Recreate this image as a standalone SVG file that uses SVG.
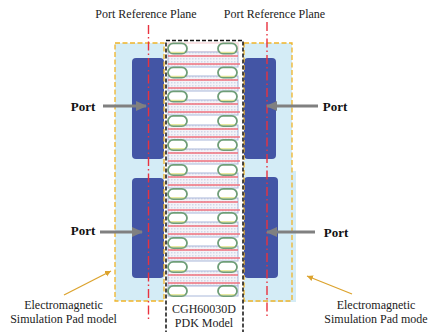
<svg xmlns="http://www.w3.org/2000/svg" width="428" height="332" viewBox="0 0 428 332">
<defs>
<pattern id="dots" width="3" height="3" patternUnits="userSpaceOnUse"><rect width="3" height="3" fill="#f3f3f8"/><rect width="1.500" height="1.500" fill="#d4d8e8"/></pattern>
<marker id="ah" markerWidth="11" markerHeight="11" refX="10" refY="5" orient="auto" markerUnits="userSpaceOnUse"><path d="M0 0L11 5L0 10Z" fill="#808080"/></marker>
<marker id="ao" markerWidth="7" markerHeight="7" refX="6" refY="3" orient="auto" markerUnits="userSpaceOnUse"><path d="M0 0L6 3L0 6Z" fill="#dca32e"/></marker>
<g id="pill"><rect x="-9.500" y="-5.200" width="19" height="10.400" rx="5.200" fill="#fff" stroke="#6f9e78" stroke-width="1.800"/><rect x="-7" y="3.300" width="14" height="0.900" fill="#dfe07a"/></g>
<g id="strip">
<rect x="168" y="0" width="70" height="15" fill="url(#dots)" stroke="#a9b8da" stroke-width="1"/>
<path d="M168 4H238" stroke="#f0707c" stroke-width="1.300"/>
<path d="M168 12H240" stroke="#f0707c" stroke-width="1.300"/>
</g>
</defs>
<style>
.t{font-family:"Liberation Serif","Times New Roman",serif;font-size:12px;fill:#222;text-anchor:middle}
.p{font-family:"Liberation Serif","Times New Roman",serif;font-size:13px;font-weight:bold;fill:#111;text-anchor:middle}
.pad{fill:#4355a5}
.ob{fill:none;stroke:#f0b428;stroke-width:1.300;stroke-dasharray:5 2.500}
.ref{fill:none;stroke:#e8323f;stroke-width:1.400;stroke-dasharray:9 3 1.500 3}
.arr{fill:none;stroke:#808080;stroke-width:2.800;marker-end:url(#ah)}
.oa{fill:none;stroke:#dca32e;stroke-width:1.300;marker-end:url(#ao)}
</style>
<rect width="428" height="332" fill="#fff"/>
<g id="pad-model-left">
<rect x="115" y="43" width="49" height="258" fill="#d4ecf6"/>
<rect x="132" y="58" width="32" height="101" rx="4" class="pad"/>
<rect x="132" y="178" width="32" height="100" rx="4" class="pad"/>
<rect x="115" y="43" width="49" height="258" class="ob"/>
</g>
<g id="pad-model-right">
<rect x="244" y="43" width="48" height="135" fill="#d4ecf6"/>
<rect x="244" y="171" width="52" height="131" fill="#d4ecf6"/>
<rect x="244" y="58" width="32" height="101" rx="4" class="pad"/>
<rect x="244" y="177" width="34" height="101" rx="4" class="pad"/>
<rect x="244" y="43" width="48" height="258" class="ob"/>
</g>
<g id="pdk-model">
<rect x="168" y="43" width="70" height="9" fill="#fff" stroke="#f5c8cc" stroke-width="1"/>
<use href="#strip" y="52"/><use href="#strip" y="76"/><use href="#strip" y="100"/><use href="#strip" y="125"/><use href="#strip" y="149"/><use href="#strip" y="173"/><use href="#strip" y="198"/><use href="#strip" y="222"/><use href="#strip" y="246"/><use href="#strip" y="271"/>
<rect x="168" y="286" width="70" height="10" fill="#fff" stroke="#a9b8da" stroke-width="1"/>
<use href="#pill" x="177.500" y="48.500"/><use href="#pill" x="227.500" y="48.500"/>
<use href="#pill" x="177.500" y="72.500"/><use href="#pill" x="227.500" y="72.500"/>
<use href="#pill" x="177.500" y="96.500"/><use href="#pill" x="227.500" y="96.500"/>
<use href="#pill" x="177.500" y="121"/><use href="#pill" x="227.500" y="121"/>
<use href="#pill" x="177.500" y="145"/><use href="#pill" x="227.500" y="145"/>
<use href="#pill" x="177.500" y="170"/><use href="#pill" x="227.500" y="170"/>
<use href="#pill" x="177.500" y="194"/><use href="#pill" x="227.500" y="194"/>
<use href="#pill" x="177.500" y="218"/><use href="#pill" x="227.500" y="218"/>
<use href="#pill" x="177.500" y="243"/><use href="#pill" x="227.500" y="243"/>
<use href="#pill" x="177.500" y="267"/><use href="#pill" x="227.500" y="267"/>
<use href="#pill" x="177.500" y="291"/><use href="#pill" x="227.500" y="291"/>
<rect x="166" y="40.500" width="77" height="295" fill="none" stroke="#111" stroke-width="1.500" stroke-dasharray="4 2"/>
</g>
<g id="connectors">
<path class="ref" d="M148.500 25V320"/>
<path class="ref" d="M267 22V317"/>
<path class="arr" d="M103 106H146"/>
<path class="arr" d="M100 232H142"/>
<path class="arr" d="M318 106H267"/>
<path class="arr" d="M315 232H267"/>
<path class="oa" d="M64 295L111 271"/>
<path class="oa" d="M352 294L307 276"/>
</g>
<g id="labels">
<text class="t" x="146" y="18">Port Reference Plane</text>
<text class="t" x="274.500" y="18">Port Reference Plane</text>
<text class="p" x="83" y="111">Port</text>
<text class="p" x="83" y="235">Port</text>
<text class="p" x="335" y="111">Port</text>
<text class="p" x="336" y="237">Port</text>
<text class="t" x="63.500" y="309">Electromagnetic</text>
<text class="t" x="63.500" y="323">Simulation Pad model</text>
<text class="t" x="376" y="309">Electromagnetic</text>
<text class="t" x="376" y="323">Simulation Pad mode</text>
<text class="t" x="204" y="313">CGH60030D</text>
<text class="t" x="204" y="327">PDK Model</text>
</g>
</svg>
